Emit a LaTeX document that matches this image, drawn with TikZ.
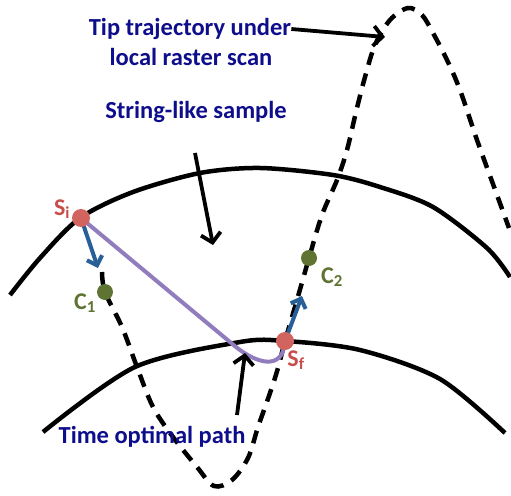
\documentclass[tikz,border=0pt]{standalone}
\usepackage{fontspec}
\setmainfont{Carlito}
\usetikzlibrary{arrows.meta}

\definecolor{textblue}{RGB}{14,14,140}
\definecolor{dotred}{RGB}{210,100,95}
\definecolor{labred}{RGB}{200,78,75}
\definecolor{dotgreen}{RGB}{95,115,50}
\definecolor{pathpurple}{RGB}{145,125,190}
\definecolor{arrowblue}{RGB}{40,95,150}

\tikzset{
  txt/.style={font=\fontsize{24.5}{28}\selectfont\bfseries, text=textblue, inner sep=0pt},
  lab/.style={font=\fontsize{24}{28}\selectfont\bfseries, inner sep=0pt},
  pointer/.style={line width=3.8pt, -{Straight Barb[length=9pt,width=20pt]}},
  movearrow/.style={arrowblue, line width=4pt, -{Straight Barb[length=8pt,width=16pt]}},
  sample/.style={line width=4.5pt},
  traj/.style={line width=4.5pt, dash pattern=on 13pt off 9pt},
  optpath/.style={pathpurple, line width=4pt},
  reddot/.style={circle, fill=dotred, inner sep=0pt, minimum size=18pt},
  greendot/.style={circle, fill=dotgreen, inner sep=0pt, minimum size=16pt}
}

\begin{document}
\begin{tikzpicture}[x=1pt,y=-1pt]
\useasboundingbox (0,0) rectangle (511,495);

% points on the path
\coordinate (si) at (81,218);
\coordinate (sf) at (285,341);
\coordinate (c1) at (105,292);
\coordinate (c2) at (309,258);

% the sample
\draw[sample] plot[smooth] coordinates {(10,295) (40,258) (80,218) (133,192) (200,173)
  (260,168) (333,175) (380,187) (433,207) (487,248) (510,277)};
\draw[sample] plot[smooth] coordinates {(43,432) (135,367) (240,342) (285,341)
  (360,350) (440,379) (505,433)};

% raster scan of the tip
\draw[traj] plot[smooth, tension=0.55] coordinates {(102,272) (105,292) (122,327) (137,367)
  (153,407) (173,437) (197,467) (214,486) (232,480) (248,458) (258,427) (270,393)
  (278,368) (285,341) (297,300) (309,258) (322,215) (337,180) (347,150) (356,112)
  (365,77) (375,45) (390,20) (408,8) (422,15) (433,33) (447,60) (460,90) (477,140)
  (497,195) (509,228)};

% time optimal path
\coordinate (bend) at (236,347);
\draw[optpath] (si) -- (bend) .. controls (256,363) and (283,372) .. (sf);

% tip moves
\coordinate (sitip) at (98,268);
\coordinate (sftip) at (302,296);
\draw[movearrow] (si) -- (sitip);
\draw[movearrow] (sf) -- (sftip);

% dots
\node[reddot] (sidot) at (si) {};
\node[reddot] (sfdot) at (sf) {};
\node[greendot] (c1dot) at (c1) {};
\node[greendot] (c2dot) at (c2) {};
\node[lab, text=labred] (silab) at (62,209) {S\textsubscript{i}};
\node[lab, text=labred] (sflab) at (296,360) {S\textsubscript{f}};
\node[lab, text=dotgreen] (c1lab) at (85,303) {C\textsubscript{1}};
\node[lab, text=dotgreen] (c2lab) at (332,277) {C\textsubscript{2}};

% labels
\node[txt] (tipa) at (190,29) {Tip trajectory under};
\node[txt] (tipb) at (191,57) {local raster scan};
\node[txt] (sample) at (196,112) {String-like sample};
\node[txt] (optimal) at (152,437) {Time optimal path};

\coordinate (tiptip) at (385,37);
\draw[pointer] (tipa.east) -- (tiptip);
\coordinate (samplefrom) at (195,153);
\coordinate (sampleto) at (213,245);
\draw[pointer] (samplefrom) -- (sampleto);
\coordinate (optfrom) at (237,415);
\coordinate (optto) at (245,353);
\draw[pointer] (optfrom) -- (optto);
\end{tikzpicture}
\end{document}
